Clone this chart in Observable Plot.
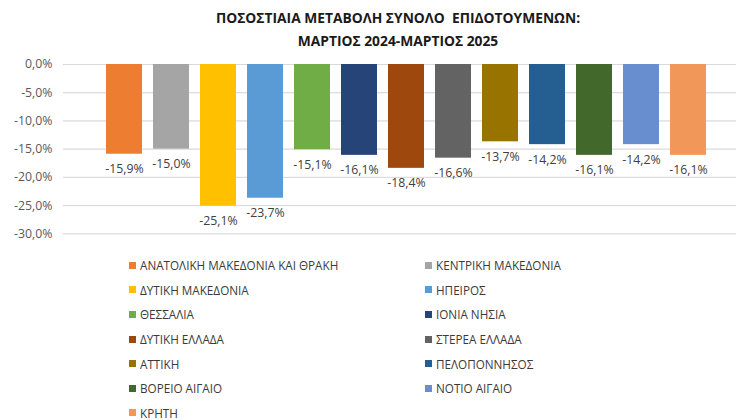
<!DOCTYPE html>
<html>
<head>
<meta charset="utf-8">
<script src="https://cdn.jsdelivr.net/npm/d3@7"></script>
<script src="https://cdn.jsdelivr.net/npm/@observablehq/plot@0.6"></script>
<style>
  html, body { margin: 0; padding: 0; background: #fff; }
  #wrap { position: relative; width: 736px; height: 420px; overflow: hidden; font-family: "Open Sans", sans-serif; }
  #title { position: absolute; top: 5.5px; left: 0; width: 736px; box-sizing: border-box; padding-left: 60px;
           text-align: center; font-weight: 700; font-size: 13.8px; line-height: 23px; color: #1a1a1a; }
  #chart { position: absolute; top: 52px; left: 0; }
  #legend { position: absolute; top: 253px; left: 129px; display: grid; grid-template-columns: 296px auto;
            grid-auto-rows: 24.6px; font-size: 11.7px; color: #3a3a3a; }
  .item { display: flex; align-items: center; align-self: center; height: 12px; line-height: 12px; white-space: nowrap; }
  .sw { width: 7px; height: 7px; margin-right: 4px; flex: none; }
</style>
</head>
<body>
<div id="wrap">
  <div id="title">ΠΟΣΟΣΤΙΑΙΑ ΜΕΤΑΒΟΛΗ ΣΥΝΟΛΟ&nbsp; ΕΠΙΔΟΤΟΥΜΕΝΩΝ:<br>ΜΑΡΤΙΟΣ 2024-ΜΑΡΤΙΟΣ 2025</div>
  <div id="chart"></div>
  <div id="legend"></div>
</div>
<script>
const regions = [
  "ΑΝΑΤΟΛΙΚΗ ΜΑΚΕΔΟΝΙΑ ΚΑΙ ΘΡΑΚΗ",
  "ΚΕΝΤΡΙΚΗ ΜΑΚΕΔΟΝΙΑ",
  "ΔΥΤΙΚΗ ΜΑΚΕΔΟΝΙΑ",
  "ΗΠΕΙΡΟΣ",
  "ΘΕΣΣΑΛΙΑ",
  "ΙΟΝΙΑ ΝΗΣΙΑ",
  "ΔΥΤΙΚΗ ΕΛΛΑΔΑ",
  "ΣΤΕΡΕΑ ΕΛΛΑΔΑ",
  "ΑΤΤΙΚΗ",
  "ΠΕΛΟΠΟΝΝΗΣΟΣ",
  "ΒΟΡΕΙΟ ΑΙΓΑΙΟ",
  "ΝΟΤΙΟ ΑΙΓΑΙΟ",
  "ΚΡΗΤΗ"
];
const values = [-15.9, -15.0, -25.1, -23.7, -15.1, -16.1, -18.4, -16.6, -13.7, -14.2, -16.1, -14.2, -16.1];
const colors = ["#ED7D31", "#A5A5A5", "#FFC000", "#5B9BD5", "#70AD47", "#264478", "#9E480E",
                "#636363", "#997300", "#255E91", "#43682B", "#698ED0", "#F1975A"];
const yTicks = [0, -5, -10, -15, -20, -25, -30];

const fmt = v => v.toFixed(1).replace(".", ",") + "%";
const data = regions.map((r, i) => ({region: r, value: values[i]}));

const chart = Plot.plot({
  width: 736,
  height: 190,
  marginTop: 12,
  marginBottom: 8.7,
  marginLeft: 63,
  marginRight: 0,
  style: {fontFamily: "'Open Sans', sans-serif", fontSize: "12.3px", color: "#595959", background: "transparent"},
  x: {domain: regions, range: [99.6, 712.8], paddingInner: 0.24, paddingOuter: 0.12, axis: null},
  y: {domain: [-30, 0], ticks: yTicks, tickFormat: fmt, grid: true, tickSize: 0, tickPadding: 11, label: null},
  color: {domain: regions, range: colors},
  marks: [
    Plot.gridY(yTicks, {stroke: "#d9d9d9", strokeOpacity: 1}),
    Plot.barY(data, {x: "region", y: "value", fill: "region"}),
    Plot.text(data, {x: "region", y: "value", text: d => fmt(d.value), dy: 15, fill: "#404040", fontSize: 12.3})
  ]
});
document.getElementById("chart").appendChild(chart);

const legend = document.getElementById("legend");
regions.forEach((r, i) => {
  const it = document.createElement("div");
  it.className = "item";
  const sw = document.createElement("span");
  sw.className = "sw";
  sw.style.background = colors[i];
  it.appendChild(sw);
  it.appendChild(document.createTextNode(r));
  legend.appendChild(it);
});
</script>
</body>
</html>
